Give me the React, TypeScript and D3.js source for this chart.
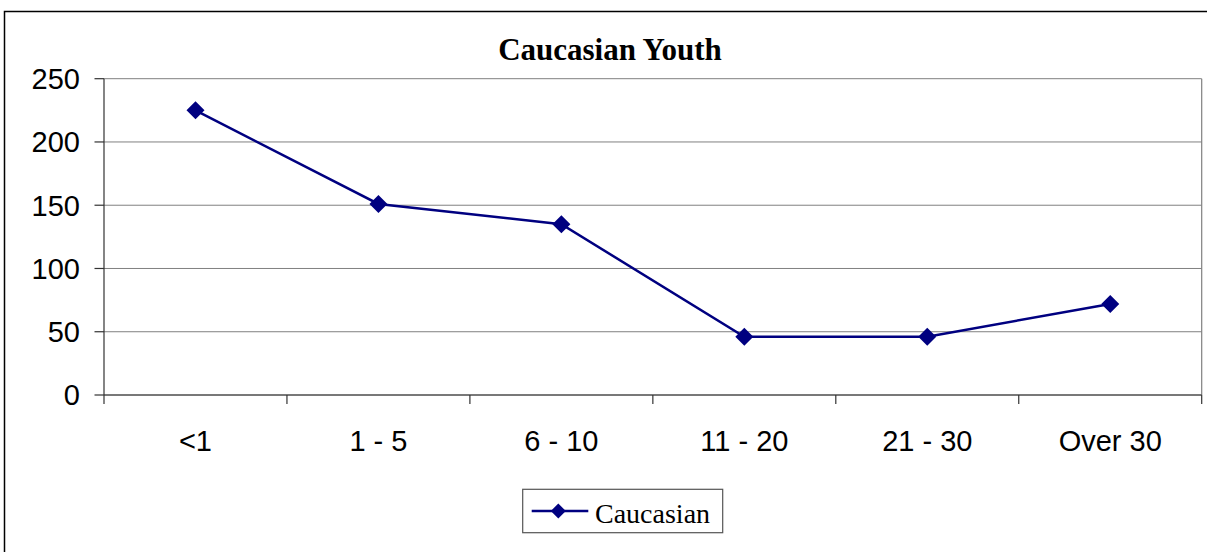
import React from "react";
import * as d3 from "d3";

const categories = ["<1", "1 - 5", "6 - 10", "11 - 20", "21 - 30", "Over 30"];
const caucasian = [225, 151, 135, 46, 46, 72];
const yTicks = [0, 50, 100, 150, 200, 250];
const title = "Caucasian Youth";
const seriesName = "Caucasian";

const W = 1207;
const H = 552;
const plot = { left: 104, right: 1201.7, top: 78.7, bottom: 395 };
const navy = "#000080";

function Diamond({ cx, cy, r }: { cx: number; cy: number; r: number }) {
  return (
    <path
      d={`M${cx},${cy - r}L${cx + r},${cy}L${cx},${cy + r}L${cx - r},${cy}Z`}
      fill={navy}
    />
  );
}

export default function App() {
  const x = d3.scaleBand<string>().domain(categories).range([plot.left, plot.right]).padding(0);
  const y = d3.scaleLinear().domain([0, 250]).range([plot.bottom, plot.top]);
  const cx = (c: string) => (x(c) as number) + x.bandwidth() / 2;
  const line = d3
    .line<number>()
    .x((_, i) => cx(categories[i]))
    .y((d) => y(d));
  const boundaries = categories.map((c) => x(c) as number).concat([plot.right]);

  return (
    <svg
      width={W}
      height={H}
      style={{ position: "absolute", left: 0, top: 0, background: "#fff" }}
    >
      <rect x={0} y={0} width={W} height={H} fill="#fff" />
      <rect x={4.5} y={11.5} width={1220} height={580} fill="none" stroke="#000" strokeWidth={1.5} />
      <text
        x={610}
        y={60}
        textAnchor="middle"
        fontFamily="'Liberation Serif', 'Times New Roman', serif"
        fontWeight="bold"
        fontSize={31}
        fill="#000"
      >
        {title}
      </text>
      {/* gridlines */}
      {yTicks.map((t) => (
        <line
          key={"g" + t}
          x1={plot.left}
          x2={plot.right}
          y1={y(t)}
          y2={y(t)}
          stroke="#808080"
          strokeWidth={1}
        />
      ))}
      <line x1={plot.right} x2={plot.right} y1={plot.top} y2={plot.bottom} stroke="#808080" strokeWidth={1.2} />
      {/* y axis */}
      <line x1={plot.left} x2={plot.left} y1={plot.top} y2={plot.bottom} stroke="#333" strokeWidth={1.2} />
      {yTicks.map((t) => (
        <g key={"yt" + t}>
          <line x1={94.5} x2={plot.left} y1={y(t)} y2={y(t)} stroke="#333" strokeWidth={1.2} />
          <text
            x={80}
            y={y(t) + 10.3}
            textAnchor="end"
            fontFamily="'Liberation Sans', Arial, sans-serif"
            fontSize={29}
            fill="#000"
          >
            {t}
          </text>
        </g>
      ))}
      {/* x axis */}
      <line x1={plot.left} x2={plot.right} y1={plot.bottom} y2={plot.bottom} stroke="#333" strokeWidth={1.2} />
      {boundaries.map((b, i) => (
        <line key={"xt" + i} x1={b} x2={b} y1={plot.bottom} y2={404} stroke="#333" strokeWidth={1.2} />
      ))}
      {categories.map((c) => (
        <text
          key={"xl" + c}
          x={cx(c)}
          y={451}
          textAnchor="middle"
          fontFamily="'Liberation Sans', Arial, sans-serif"
          fontSize={29}
          fill="#000"
        >
          {c}
        </text>
      ))}
      {/* series */}
      <path d={line(caucasian) || ""} fill="none" stroke={navy} strokeWidth={2.5} />
      {caucasian.map((v, i) => (
        <Diamond key={"m" + i} cx={cx(categories[i])} cy={y(v)} r={9} />
      ))}
      {/* legend */}
      <rect x={522.7} y={489.3} width={200} height={43.4} fill="#fff" stroke="#555" strokeWidth={1.2} />
      <line x1={531.7} x2={588.3} y1={511} y2={511} stroke={navy} strokeWidth={2.5} />
      <Diamond cx={558.3} cy={511} r={7.5} />
      <text
        x={595}
        y={522.7}
        fontFamily="'Liberation Serif', 'Times New Roman', serif"
        fontSize={28}
        fill="#000"
      >
        {seriesName}
      </text>
    </svg>
  );
}
